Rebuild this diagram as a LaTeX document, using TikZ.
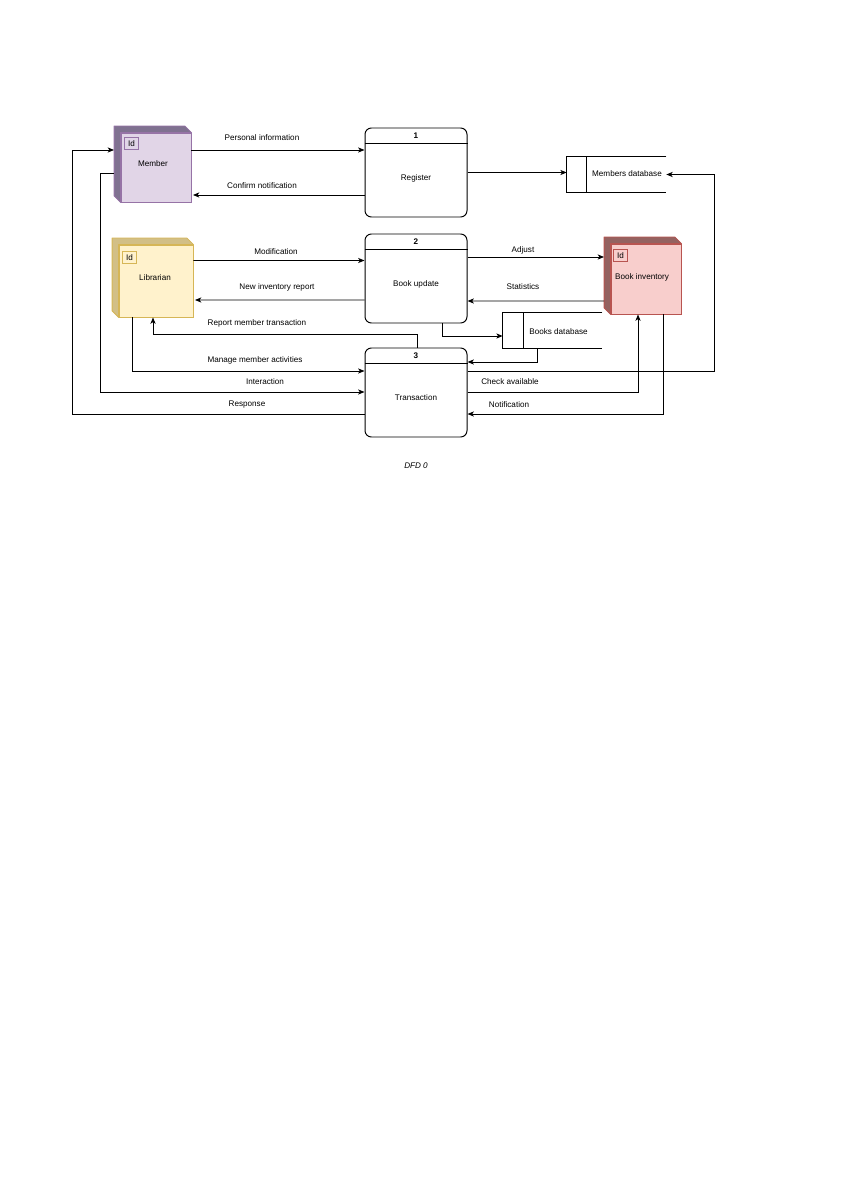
\documentclass[tikz,border=0pt]{standalone}
\usepackage{fontspec}
\setmainfont{Liberation Sans}
\usetikzlibrary{calc,arrows.meta}
\definecolor{memf}{HTML}{E1D5E7}\definecolor{memd}{HTML}{9673A6}\definecolor{mems}{HTML}{7F7190}
\definecolor{libf}{HTML}{FFF2CC}\definecolor{libd}{HTML}{D6B656}\definecolor{libs}{HTML}{D2BF86}
\definecolor{invf}{HTML}{F8CECC}\definecolor{invd}{HTML}{B85450}\definecolor{invs}{HTML}{946260}
\begin{document}
\begin{tikzpicture}[x=0.70699pt,y=-0.70699pt,
  font=\fontsize{5.75}{7}\selectfont,
  flow/.style={draw=black,line width=0.7pt,-{Stealth[length=4.5pt,width=3.6pt,inset=1.2pt]}},
  proc/.style={draw=black,line width=0.7pt,rounded corners=4.5pt,minimum width=102*0.707pt,minimum height=89*0.707pt,inner sep=0pt},
  entface/.style={line width=0.6pt,inner sep=0pt},
  idbox/.style={draw,line width=0.5pt,minimum width=14*0.707pt,minimum height=12*0.707pt,inner sep=0pt},
  store/.style={minimum width=99*0.707pt,minimum height=35*0.707pt,inner sep=0pt},
  lbl/.style={inner sep=0pt},
  numlbl/.style={inner sep=0pt,font=\fontsize{5.75}{7}\selectfont\bfseries}
]
\useasboundingbox (0,0) rectangle (842,1191);

% ---------- entities ----------
\node[entface,draw=memd,fill=memf,minimum width=70*0.707pt,minimum height=69*0.707pt] (member) at (156,167.5) {};
\filldraw[fill=mems,draw=memd,line width=0.6pt,line join=round] (member.south west) -- ++(-6.5,-6.5) -- ($(member.north west)+(-6.5,-6.5)$) -- ($(member.north east)+(-6.5,-6.5)$) -- (member.north east) -- (member.north west) -- cycle;
\node[idbox,draw=memd] (memberid) at ($(member.north west)+(11,11)$) {Id};
\node[lbl] (memberlbl) at (153,164) {Member};

\node[entface,draw=libd,fill=libf,minimum width=74*0.707pt,minimum height=72*0.707pt] (librarian) at (156,281) {};
\filldraw[fill=libs,draw=libd,line width=0.6pt,line join=round] (librarian.south west) -- ++(-6.5,-6.5) -- ($(librarian.north west)+(-6.5,-6.5)$) -- ($(librarian.north east)+(-6.5,-6.5)$) -- (librarian.north east) -- (librarian.north west) -- cycle;
\node[idbox,draw=libd] (librarianid) at ($(librarian.north west)+(11,13)$) {Id};
\node[lbl] (librarianlbl) at (155,278) {Librarian};

\node[entface,draw=invd,fill=invf,minimum width=70*0.707pt,minimum height=70*0.707pt] (bookinv) at (646,279) {};
\filldraw[fill=invs,draw=invd,line width=0.6pt,line join=round] (bookinv.south west) -- ++(-6.5,-6.5) -- ($(bookinv.north west)+(-6.5,-6.5)$) -- ($(bookinv.north east)+(-6.5,-6.5)$) -- (bookinv.north east) -- (bookinv.north west) -- cycle;
\node[idbox,draw=invd] (bookinvid) at ($(bookinv.north west)+(10,12)$) {Id};
\node[lbl] (bookinvlbl) at (642,277) {Book inventory};

% ---------- processes ----------
\node[proc] (reg) at (416,172.5) {};
\draw[line width=0.7pt] ($(reg.north west)+(0,16)$) -- ($(reg.north east)+(0,16)$);
\node[numlbl] (regnum) at ($(reg.north)+(0,8)$) {1};
\node[lbl] (reglbl) at ($(reg.center)+(0,5.5)$) {Register};

\node[proc] (upd) at (416,278.5) {};
\draw[line width=0.7pt] ($(upd.north west)+(0,16)$) -- ($(upd.north east)+(0,16)$);
\node[numlbl] (updnum) at ($(upd.north)+(0,8)$) {2};
\node[lbl] (updlbl) at ($(upd.center)+(0,5.5)$) {Book update};

\node[proc] (trans) at (416,392.5) {};
\draw[line width=0.7pt] ($(trans.north west)+(0,16)$) -- ($(trans.north east)+(0,16)$);
\node[numlbl] (transnum) at ($(trans.north)+(0,8)$) {3};
\node[lbl] (translbl) at ($(trans.center)+(0,5.5)$) {Transaction};

% ---------- data stores ----------
\node[store] (mdb) at (616.5,174.5) {};
\draw[line width=0.7pt] (mdb.north east) -- (mdb.north west) -- (mdb.south west) -- (mdb.south east);
\draw[line width=0.7pt] ($(mdb.north west)+(20,0)$) -- ($(mdb.south west)+(20,0)$);
\node[lbl] (mdblbl) at (627,174) {Members database};

\node[store] (bdb) at (552.5,330.5) {};
\draw[line width=0.7pt] (bdb.north east) -- (bdb.north west) -- (bdb.south west) -- (bdb.south east);
\draw[line width=0.7pt] ($(bdb.north west)+(21,0)$) -- ($(bdb.south west)+(21,0)$);
\node[lbl] (bdblbl) at (558.5,332) {Books database};

% ---------- flows ----------
\draw[flow] ($(member.east)+(0,-17.5)$) -- ($(reg.west)+(0,-22.5)$);
\node[lbl] (lpi) at (262,137.5) {Personal information};
\draw[flow] ($(reg.west)+(0,22.5)$) -- ($(member.east)+(1.5,27.5)$);
\node[lbl] (lcn) at (262,186) {Confirm notification};
\draw[flow] (reg.east) -- (reg.east -| mdb.west);

\draw[flow] ($(librarian.east)+(0,-20.5)$) -- ($(upd.west)+(0,-18)$);
\node[lbl] (lmo) at (276,252) {Modification};
\draw[flow] ($(upd.west)+(0,21.5)$) -- ($(librarian.east)+(1.5,19)$);
\node[lbl] (lni) at (277,287) {New inventory report};

\draw[flow] ($(upd.east)+(0,-21.5)$) -- ($(bookinv.west)+(-6.5,-22)$);
\node[lbl] (lad) at (523,250) {Adjust};
\draw[flow] ($(bookinv.west)+(-6.5,22)$) -- ($(upd.east)+(0,22.5)$);
\node[lbl] (lst) at (523,287) {Statistics};

\draw[flow] ($(upd.south)+(26,0)$) |- ($(bdb.west)+(0,5.5)$);
\draw[flow] ($(bdb.south)+(-15.5,0)$) |- ($(trans.east)+(0,-30.5)$);

\draw[flow] ($(trans.north)+(1,0)$) |- ($(librarian.south)+(-3,17)$) -- ($(librarian.south)+(-3,0)$);
\node[lbl] (lrm) at (257,323) {Report member transaction};

\draw[flow] ($(librarian.south)+(-24,0)$) |- ($(trans.west)+(0,-21.5)$);
\node[lbl] (lmm) at (255,360) {Manage member activities};

\draw[flow] ($(member.west)+(-6.5,5.5)$) -- ++(-13.5,0) |- ($(trans.west)+(0,-0.5)$);
\node[lbl] (lin) at (265,382) {Interaction};

\draw[flow] ($(trans.west)+(0,21.5)$) -- ++(-292,0) |- ($(member.west)+(-6.5,-17.5)$);
\node[lbl] (lre) at (247,405) {Response};

\draw[flow] ($(trans.east)+(0,-21.5)$) -| ($(mdb.east)+(48,0)$) -- (mdb.east);

\draw[flow] ($(trans.east)+(0,-0.5)$) -| ($(bookinv.south)+(-8,0)$);
\node[lbl] (lca) at (510,382) {Check available};
\draw[flow] ($(bookinv.south)+(17,0)$) |- ($(trans.east)+(0,21.5)$);
\node[lbl] (lno) at (509,405) {Notification};

\node[lbl,font=\fontsize{5.75}{7}\selectfont\itshape] (cap) at (416,466) {DFD 0};
\end{tikzpicture}
\end{document}
